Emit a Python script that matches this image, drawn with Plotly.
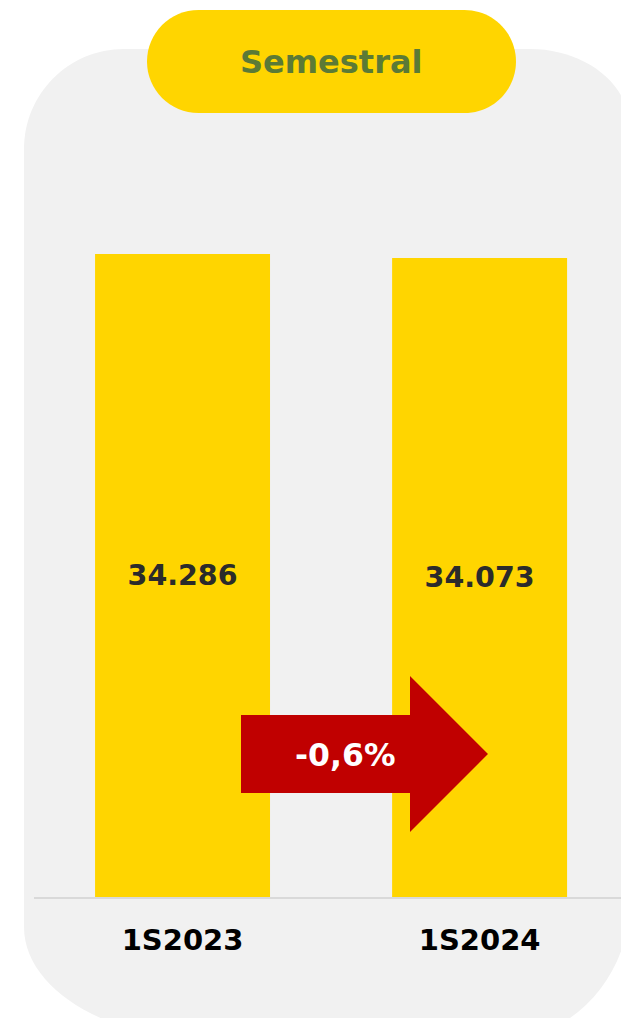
import plotly.graph_objects as go

# ---- data ----
categories = ["1S2023", "1S2024"]
values = [34286, 34073]
title_text = "Semestral"

# ---- geometry helpers (pixel -> paper) ----
W, H = 621, 1018
ML, MR, MT, MB = 34, 0, 150, 121
PW, PH = W - ML - MR, H - MT - MB
BASE_Y = H - MB


def px(x, y):
    return (x - ML) / PW, (BASE_Y - y) / PH


def path_from(points_cmds):
    out = []
    for cmd, pts in points_cmds:
        coords = " ".join("%.5f,%.5f" % px(*p) for p in pts)
        out.append(cmd + coords)
    return " ".join(out) + " Z"


def rounded_rect(x0, y0, x1, y1, tl, tr, br, bl):
    """Each corner radius is (rx, ry) in pixels."""
    k = 0.5523
    (ax, ay), (bx, by), (cx, cy), (dx, dy) = tl, tr, br, bl
    cmds = [
        ("M", [(x0 + ax, y0)]),
        ("L", [(x1 - bx, y0)]),
        ("C", [(x1 - bx + k * bx, y0), (x1, y0 + by - k * by), (x1, y0 + by)]),
        ("L", [(x1, y1 - cy)]),
        ("C", [(x1, y1 - cy + k * cy), (x1 - cx + k * cx, y1), (x1 - cx, y1)]),
        ("L", [(x0 + dx, y1)]),
        ("C", [(x0 + dx - k * dx, y1), (x0, y1 - dy + k * dy), (x0, y1 - dy)]),
        ("L", [(x0, y0 + ay)]),
        ("C", [(x0, y0 + ay - k * ay), (x0 + ax - k * ax, y0), (x0 + ax, y0)]),
    ]
    return path_from(cmds)


YELLOW = "#FFD500"
RED = "#C00000"
PANEL = "#F1F1F1"

pct = (values[1] / values[0] - 1) * 100
pct_text = ("%.1f%%" % pct).replace(".", ",")

y_max = max(values) * PH / (BASE_Y - 254)

fig = go.Figure()
fig.add_trace(go.Bar(
    x=[0, 1],
    y=values,
    width=0.589,
    marker=dict(color=YELLOW, line=dict(width=0)),
    texttemplate="%{y:,.0f}",
    textposition="inside",
    insidetextanchor="middle",
    textangle=0,
    textfont=dict(family="DejaVu Sans", size=28.5, color="#2B2B2B", weight="bold"),
    hoverinfo="skip",
))

shapes = []
# grey rounded panel
shapes.append(dict(
    type="path", xref="paper", yref="paper", layer="below",
    path=rounded_rect(24, 49, 630, 1040, (100, 100), (100, 79), (130, 140), (188, 113)),
    fillcolor=PANEL, line=dict(width=0),
))
# yellow pill
shapes.append(dict(
    type="path", xref="paper", yref="paper", layer="above",
    path=rounded_rect(147, 10, 516, 113, (51.5, 51.5), (51.5, 51.5), (51.5, 51.5), (51.5, 51.5)),
    fillcolor=YELLOW, line=dict(width=0),
))
# red arrow
arrow_pts = [(241, 715), (410, 715), (410, 676), (488, 754), (410, 832), (410, 793), (241, 793)]
arrow_cmds = [("M", [arrow_pts[0]])] + [("L", [p]) for p in arrow_pts[1:]]
shapes.append(dict(
    type="path", xref="paper", yref="paper", layer="above",
    path=path_from(arrow_cmds),
    fillcolor=RED, line=dict(width=0),
))

ax_, ay_ = px(331, 62)
bx_, by_ = px(345, 755)
annotations = [
    dict(x=ax_, y=ay_, xref="paper", yref="paper", text=title_text, showarrow=False,
         xanchor="center", yanchor="middle",
         font=dict(family="DejaVu Sans", size=32, color="#5B7A36", weight="bold")),
    dict(x=bx_, y=by_, xref="paper", yref="paper", text=pct_text,
         showarrow=False, xanchor="center", yanchor="middle",
         font=dict(family="DejaVu Sans", size=31.5, color="#FFFFFF", weight="bold")),
]

fig.update_layout(
    width=W, height=H,
    margin=dict(l=ML, r=MR, t=MT, b=MB, pad=0),
    paper_bgcolor="#FFFFFF",
    plot_bgcolor="rgba(0,0,0,0)",
    separators=",.",
    showlegend=False,
    shapes=shapes,
    annotations=annotations,
    xaxis=dict(
        range=[-0.5, 1.476],
        tickmode="array", tickvals=[0, 1], ticktext=categories,
        showgrid=False, zeroline=False,
        showline=True, linecolor="#D9D9D9", linewidth=2,
        ticks="", ticklabelstandoff=16,
        tickfont=dict(family="DejaVu Sans", size=29, color="#000000", weight="bold"),
        fixedrange=True,
    ),
    yaxis=dict(
        range=[0, y_max], visible=False, showgrid=False, zeroline=False, fixedrange=True,
    ),
)

fig.write_html(
    "out.html",
    config={"displayModeBar": False},
    post_script="document.body.style.margin='0';document.body.style.overflow='hidden';",
)
